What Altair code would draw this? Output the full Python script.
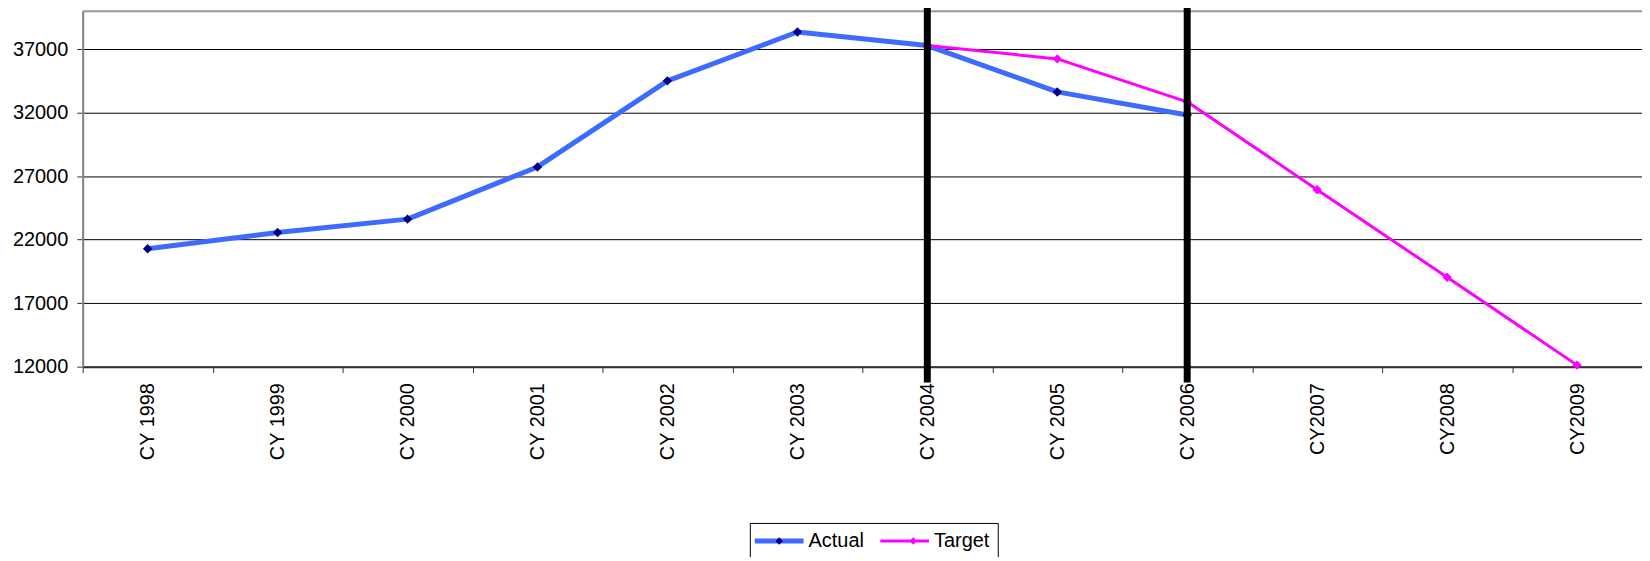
import altair as alt
import pandas as pd

categories = ["CY 1998", "CY 1999", "CY 2000", "CY 2001", "CY 2002", "CY 2003",
              "CY 2004", "CY 2005", "CY 2006", "CY2007", "CY2008", "CY2009"]
actual_cats = categories[:9]
actual_vals = [21280, 22570, 23620, 27730, 34510, 38360, 37290, 33640, 31820]
target_cats = categories[6:]
target_vals = [37290, 36240, 32860, 25940, 19040, 12120]
marker_cats = ["CY 2004", "CY 2006"]
y_ticks = [12000, 17000, 22000, 27000, 32000, 37000]
series_names = ["Actual", "Target"]
line_colors = ["#3D6BFF", "#FF00FF"]
point_colors = ["#000080", "#FF00FF"]

rows = []
for c, v in zip(actual_cats, actual_vals):
    rows.append({"cat": c, "value": v, "series": "Actual", "pt": "Actual"})
for c, v in zip(target_cats, target_vals):
    rows.append({"cat": c, "value": v, "series": "Target", "pt": "Target"})
df = pd.DataFrame(rows)
bars = pd.DataFrame({"cat": marker_cats})
border = pd.DataFrame({"value": [40000]})

FONT = "Liberation Sans"
W, H = 1566, 357

xscale = alt.Scale(type="band", domain=categories, paddingInner=0, paddingOuter=0)
xaxis = alt.Axis(title=None, tickBand="extent", labelAngle=270, labelFontSize=20,
                 labelFont=FONT, labelColor="black", tickSize=6, tickColor="#333",
                 domainColor="#333", domainWidth=2, labelPadding=10, grid=False,
                 labelOverlap=False)
yscale = alt.Scale(domain=[12000, 40000], nice=False, zero=False)
yaxis = alt.Axis(values=y_ticks, title=None, format="d", labelFontSize=20, labelFont=FONT,
                 labelColor="black", gridColor="#000", gridWidth=1, domainColor="#808080",
                 domainWidth=2, tickColor="#333", tickSize=6, labelPadding=9)

X = alt.X("cat:N", scale=xscale, axis=xaxis, bandPosition=0.5)
Y = alt.Y("value:Q", scale=yscale, axis=yaxis)

LINE_PATH = "M-2.6,0L7.2,0"
DIAMOND_PATH = "M-2.6,0 M2.3,-0.75L3.05,0L2.3,0.75L1.55,0Z M7.2,0"
common = dict(orient="none", legendX=670, legendY=514, direction="horizontal",
              title=None, symbolSize=100, labelFontSize=20, labelFont=FONT,
              padding=8, labelOffset=31)
legA = alt.Legend(symbolType=LINE_PATH, labelColor="black", strokeColor="#000",
                  columnPadding=10, **common)
legB = alt.Legend(symbolType=DIAMOND_PATH, symbolStrokeColor="transparent",
                  symbolStrokeWidth=5, labelExpr="''", columnPadding=65.6, **common)

lines = alt.Chart(df).mark_line(strokeJoin="round", strokeCap="round").encode(
    x=X, y=Y,
    color=alt.Color("series:N", scale=alt.Scale(domain=series_names, range=line_colors), legend=legA),
    strokeWidth=alt.StrokeWidth("series:N", scale=alt.Scale(domain=series_names, range=[5, 3]), legend=legA),
    detail="series:N",
)

points = alt.Chart(df).mark_point(shape="diamond", filled=True, size=90, strokeWidth=0, opacity=1).encode(
    x=X, y=Y,
    fill=alt.Fill("pt:N", scale=alt.Scale(range=point_colors), legend=legB),
)

rules = alt.Chart(bars).mark_rule(color="black", strokeWidth=7).encode(
    x=alt.X("cat:N", scale=xscale, axis=xaxis, bandPosition=0.5),
    y=alt.value(-5), y2=alt.value(H + 16),
)

top = alt.Chart(border).mark_rule(color="#999999", strokeWidth=2).encode(
    y=alt.Y("value:Q", scale=yscale, axis=yaxis),
    x=alt.value(0), x2=alt.value(W),
)

chart = alt.layer(top, lines, points, rules).properties(
    width=W, height=H,
    padding={"left": 75, "top": 2, "right": 0, "bottom": 190},
    autosize=alt.AutoSizeParams(type="none"),
    background="white",
).configure_view(strokeWidth=0).configure(font=FONT)

chart.save("out.html", embed_options={"renderer": "svg", "actions": False})
